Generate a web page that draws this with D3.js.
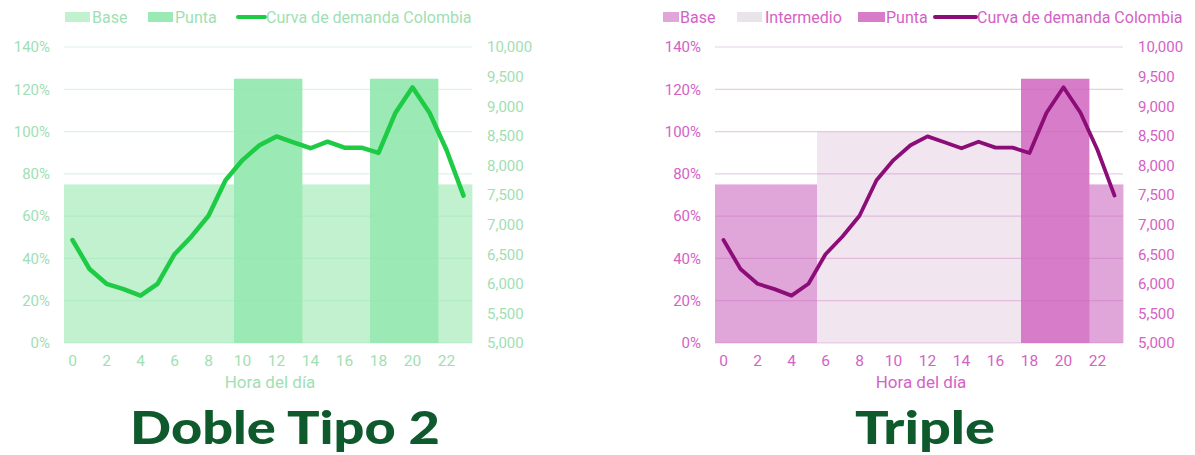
<!DOCTYPE html>
<html>
<head>
<meta charset="utf-8">
<script src="https://cdn.jsdelivr.net/npm/d3@7"></script>
<style>
  html, body { margin: 0; padding: 0; background: #ffffff; }
  svg { display: block; }
</style>
</head>
<body>
<svg id="chart" width="1195" height="455"></svg>
<script>
// ---------- DATA ----------
const hours = [0,1,2,3,4,5,6,7,8,9,10,11,12,13,14,15,16,17,18,19,20,21,22,23];
const xTickLabels = [0,2,4,6,8,10,12,14,16,18,20,22];
const pctTicks = [0,20,40,60,80,100,120,140];
const mwTicks = [5000,5500,6000,6500,7000,7500,8000,8500,9000,9500,10000];
// Curva de demanda Colombia (MW)
const demand = [6740,6250,6000,5910,5800,6000,6500,6800,7150,7750,8090,8340,8490,8390,8290,8400,8300,8300,8210,8890,9320,8890,8260,7490];

// Doble Tipo 2 (%)
const dobleBase  = [75,75,75,75,75,75,75,75,75,75,null,null,null,null,75,75,75,75,null,null,null,null,75,75];
const doblePunta = [null,null,null,null,null,null,null,null,null,null,125,125,125,125,null,null,null,null,125,125,125,125,null,null];

// Triple (%)
const tripleBase       = [75,75,75,75,75,75,null,null,null,null,null,null,null,null,null,null,null,null,null,null,null,null,75,75];
const tripleIntermedio = [null,null,null,null,null,null,100,100,100,100,100,100,100,100,100,100,100,100,null,null,null,null,null,null];
const triplePunta      = [null,null,null,null,null,null,null,null,null,null,null,null,null,null,null,null,null,null,125,125,125,125,null,null];

const titles = ["Doble Tipo 2", "Triple"];
const legendLineLabel = "Curva de demanda Colombia";
const xAxisTitle = "Hora del día";

// ---------- DRAW ----------
const svg = d3.select("#chart");
const fmtMW = d3.format(",");

function drawChart(cfg) {
  const g = svg.append("g");
  const x = d3.scaleBand().domain(hours).range([cfg.x0, cfg.x1]).padding(0);
  const y = d3.scaleLinear().domain([0, 140]).range([343, 47]);
  const y2 = d3.scaleLinear().domain([5000, 10000]).range([343, 47]);

  // bars
  cfg.series.forEach(s => {
    g.append("g").selectAll("rect")
      .data(hours.map((h, i) => ({ h, v: s.values[i] })).filter(d => d.v != null))
      .join("rect")
      .attr("x", d => x(d.h))
      .attr("width", x.bandwidth() + 0.4)
      .attr("y", d => y(d.v))
      .attr("height", d => y(0) - y(d.v))
      .attr("fill", s.color);
  });

  // gridlines (drawn over bars, faint)
  g.append("g").selectAll("line")
    .data(pctTicks)
    .join("line")
    .attr("x1", cfg.x0).attr("x2", cfg.x1)
    .attr("y1", d => y(d)).attr("y2", d => y(d))
    .attr("stroke", cfg.grid).attr("stroke-width", 1.2);

  // left axis
  const left = g.append("g").attr("transform", `translate(${cfg.x0 - 14},0)`)
    .call(d3.axisLeft(y).tickValues(pctTicks).tickFormat(d => d + "%").tickSize(0).tickPadding(0));
  left.select(".domain").remove();
  left.selectAll("text").attr("fill", cfg.text).attr("font-family", "Roboto").attr("font-size", 15);

  // right axis
  const right = g.append("g").attr("transform", `translate(${cfg.x1 + 15},0)`)
    .call(d3.axisRight(y2).tickValues(mwTicks).tickFormat(fmtMW).tickSize(0).tickPadding(0));
  right.select(".domain").remove();
  right.selectAll("text").attr("fill", cfg.text).attr("font-family", "Roboto").attr("font-size", 15);

  // bottom axis
  const bottom = g.append("g").attr("transform", `translate(0,355)`)
    .call(d3.axisBottom(x).tickValues(xTickLabels).tickSize(0).tickPadding(0));
  bottom.select(".domain").remove();
  bottom.selectAll("text").attr("fill", cfg.text).attr("font-family", "Roboto").attr("font-size", 15.5);

  // axis title
  g.append("text")
    .attr("x", (cfg.x0 + cfg.x1) / 2 + 2).attr("y", 388)
    .attr("text-anchor", "middle")
    .attr("font-family", "Roboto").attr("font-size", 17)
    .attr("fill", cfg.text).text(xAxisTitle);

  // line
  const line = d3.line().x((d, i) => x(hours[i]) + x.bandwidth() / 2).y(d => y2(d));
  g.append("path").datum(demand)
    .attr("d", line).attr("fill", "none")
    .attr("stroke", cfg.lineColor).attr("stroke-width", cfg.lineWidth)
    .attr("stroke-linejoin", "round").attr("stroke-linecap", "round");

  // legend
  const lg = g.append("g").attr("font-family", "Roboto").attr("font-size", 16);
  cfg.legend.forEach(item => {
    if (item.type === "rect") {
      lg.append("rect").attr("x", item.sx).attr("y", 12).attr("width", item.sw).attr("height", 10).attr("fill", item.color);
    } else {
      lg.append("line").attr("x1", item.sx).attr("x2", item.sx + item.sw).attr("y1", 17).attr("y2", 17)
        .attr("stroke", item.color).attr("stroke-width", 4).attr("stroke-linecap", "round");
    }
    lg.append("text").attr("x", item.tx).attr("y", 17).attr("dy", "0.35em")
      .attr("fill", cfg.text).text(item.label);
  });

  // big title
  g.append("text")
    .attr("x", cfg.titleX).attr("y", 444)
    .attr("text-anchor", "middle")
    .attr("font-family", "Lato").attr("font-weight", 900)
    .attr("font-size", 46)
    .attr("textLength", cfg.titleW).attr("lengthAdjust", "spacingAndGlyphs")
    .attr("fill", "#0e5a2d").text(cfg.title);
}

drawChart({
  x0: 64, x1: 472,
  series: [
    { values: dobleBase, color: "#c1f1cf" },
    { values: doblePunta, color: "#9beab5" }
  ],
  grid: "rgba(150,225,175,0.35)",
  text: "#9fe0b3",
  lineColor: "#1ecb45", lineWidth: 4.5,
  legend: [
    { type: "rect", sx: 65, sw: 25, color: "#c1f1cf", tx: 92, label: "Base" },
    { type: "rect", sx: 148, sw: 25, color: "#9beab5", tx: 175, label: "Punta" },
    { type: "line", sx: 238, sw: 27, color: "#1ecb45", tx: 266, label: legendLineLabel }
  ],
  title: titles[0], titleX: 285, titleW: 310
});

drawChart({
  x0: 715, x1: 1123,
  series: [
    { values: tripleBase, color: "#e0a5d9" },
    { values: tripleIntermedio, color: "#f1e5f0" },
    { values: triplePunta, color: "#d77cc8" }
  ],
  grid: "rgba(200,110,190,0.35)",
  text: "#d462c5",
  lineColor: "#8c0c78", lineWidth: 3.8,
  legend: [
    { type: "rect", sx: 663, sw: 16, color: "#e0a5d9", tx: 680, label: "Base" },
    { type: "rect", sx: 737, sw: 25, color: "#ebe3ea", tx: 765, label: "Intermedio" },
    { type: "rect", sx: 858, sw: 27, color: "#d77cc8", tx: 886, label: "Punta" },
    { type: "line", sx: 935, sw: 41, color: "#8c0c78", tx: 977, label: legendLineLabel }
  ],
  title: titles[1], titleX: 925, titleW: 140
});
</script>
</body>
</html>
